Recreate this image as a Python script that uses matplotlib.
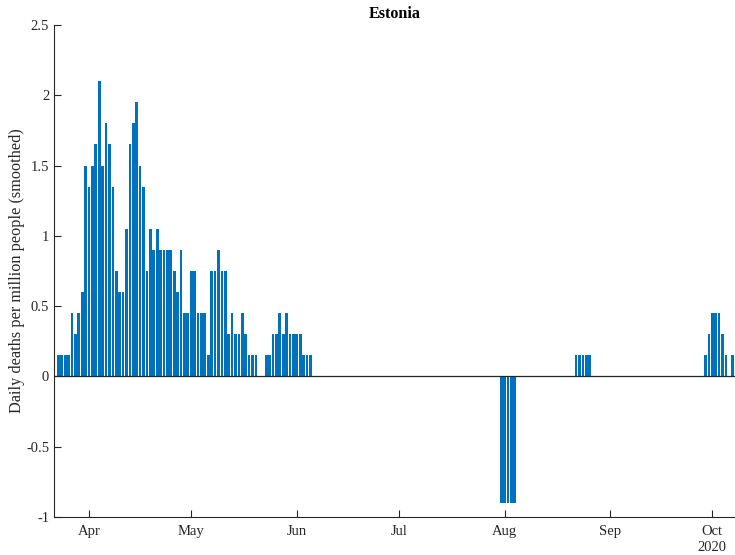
import numpy as np
import pandas as pd
import matplotlib
matplotlib.use("Agg")
import matplotlib.pyplot as plt
import matplotlib.dates as mdates

plt.rcParams['font.family'] = ['Liberation Serif', 'DejaVu Serif']

# Daily deaths per million (smoothed), Estonia 2020
spring_start = "2020-03-23"
spring_vals = [0.15, 0.15, 0.15, 0.15, 0.45, 0.3, 0.45, 0.6, 1.5, 1.35,
               1.5, 1.65, 2.1, 1.5, 1.8, 1.65, 1.35, 0.75, 0.6, 0.6,
               1.05, 1.65, 1.8, 1.95, 1.5, 1.35, 0.75, 1.05, 0.9, 1.05,
               0.9, 0.9, 0.9, 0.9, 0.75, 0.6, 0.9, 0.45, 0.45, 0.75,
               0.75, 0.45, 0.45, 0.45, 0.15, 0.75, 0.75, 0.9, 0.75, 0.75,
               0.3, 0.45, 0.3, 0.3, 0.45, 0.3, 0.15, 0.15, 0.15, 0,
               0, 0.15, 0.15, 0.3, 0.3, 0.45, 0.3, 0.45, 0.3, 0.3,
               0.3, 0.3, 0.15, 0.15, 0.15]
aug_start = "2020-07-31"
aug_vals = [-0.9, -0.9, -0.9, -0.9, -0.9]
late_aug_start = "2020-08-22"
late_aug_vals = [0.15, 0.15, 0.15, 0.15, 0.15]
oct_start = "2020-09-29"
oct_vals = [0.15, 0.3, 0.45, 0.45, 0.45, 0.3, 0.15, 0, 0.15]

segments = [(spring_start, spring_vals), (aug_start, aug_vals),
            (late_aug_start, late_aug_vals), (oct_start, oct_vals)]
dates = []
vals = []
for start, v in segments:
    dates.extend(pd.date_range(start, periods=len(v), freq="D"))
    vals.extend(v)
dates = pd.to_datetime(dates)
vals = np.array(vals)

fig = plt.figure(figsize=(7.35, 5.55), dpi=100)
ax = fig.add_axes([54/735, 1 - 517/555, 1 - 54/735, (517 - 25)/555])

ax.bar(dates, vals, width=0.8, color='#0072BD', edgecolor='none')
ax.axhline(0, color='#262626', lw=0.9)

ax.set_xlim(pd.Timestamp("2020-03-21 17:00"), pd.Timestamp("2020-10-07 16:00"))
ax.set_ylim(-1, 2.5)
yt = [-1, -0.5, 0, 0.5, 1, 1.5, 2, 2.5]
ax.set_yticks(yt)
ax.set_yticklabels(['-1', '-0.5', '0', '0.5', '1', '1.5', '2', '2.5'])
ax.xaxis.set_major_locator(mdates.MonthLocator())
ax.xaxis.set_major_formatter(mdates.DateFormatter('%b'))

for s in ['top', 'right']:
    ax.spines[s].set_visible(False)
for s in ['left', 'bottom']:
    ax.spines[s].set_color('#262626')
    ax.spines[s].set_linewidth(0.8)
ax.tick_params(direction='in', length=5, width=0.8, color='#262626',
               labelsize=10.5, labelcolor='#262626')
ax.tick_params(axis='x', pad=6)

ax.text(pd.Timestamp("2020-10-01"), -1.22, '2020', ha='center', va='center',
        fontsize=10.5, color='#262626')

ax.set_ylabel('Daily deaths per million people (smoothed)', fontsize=11.7,
              color='#262626', labelpad=1)
ax.set_title('Estonia', fontsize=11.6, fontweight='bold', pad=5)

fig.savefig('out.png', dpi=100)
